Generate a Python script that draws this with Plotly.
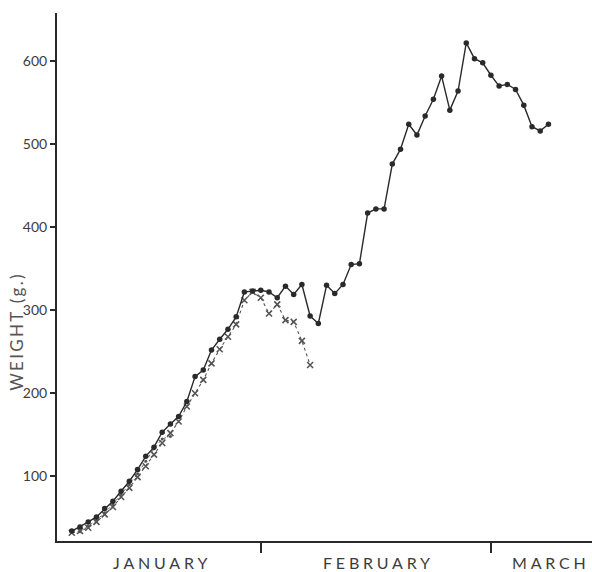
import plotly.graph_objects as go

# Day index counted from 1 January (day 0); Feb starts at 31, Mar at 59.
days_main = list(range(8, 67))
weight_main = [34, 39, 45, 51, 61, 70, 82, 94, 108, 124, 135, 153, 163, 172, 190,
               220, 228, 252, 265, 277, 292, 322, 323, 324, 322, 315, 329, 319,
               331, 293, 284, 330, 320, 331, 355, 356, 417, 422, 422, 476, 494,
               524, 511, 534, 554, 582, 541, 564, 622, 603, 598, 583, 570, 572,
               566, 547, 521, 516, 524]

days_cross = list(range(8, 38))
weight_cross = [32, 34, 38, 45, 54, 63, 75, 86, 99, 112, 126, 140, 152, 166, 184,
                200, 216, 236, 253, 268, 283, 312, 322, 315, 296, 307, 288, 286,
                263, 234]

days_small = list(range(9, 21))
weight_small = [33, 40, 47, 56, 66, 78, 90, 103, 118, 133, 145, 148]

month_names = ["JANUARY", "FEBRUARY", "MARCH"]
month_label_days = [19.0, 45.3, 66.3]
weight_ticks = [100, 200, 300, 400, 500, 600]

INK = "#2a2a2a"
TEXT = "#3c3c3c"
FONT = "Lato"


def spaced(s, px):
    return f'<span style="letter-spacing:{px}px">{s}</span>'


fig = go.Figure()

fig.add_trace(go.Scatter(
    x=days_small, y=weight_small, mode="lines+markers",
    line=dict(color="#555", width=0.9, dash="3px,3px"),
    marker=dict(symbol="circle", size=3, color="#555"),
    showlegend=False, hoverinfo="skip"))

fig.add_trace(go.Scatter(
    x=days_cross, y=weight_cross, mode="lines+markers",
    line=dict(color="#555", width=1.1, dash="dot"),
    marker=dict(symbol="x-thin-open", size=6, line=dict(color="#333", width=1.6)),
    showlegend=False, hoverinfo="skip"))

fig.add_trace(go.Scatter(
    x=days_main, y=weight_main, mode="lines+markers",
    line=dict(color=INK, width=1.4),
    marker=dict(symbol="circle", size=5.5, color=INK),
    showlegend=False, hoverinfo="skip"))

for name, d in zip(month_names, month_label_days):
    fig.add_annotation(x=d, y=0, xref="x", yref="paper", yanchor="top",
                       xanchor="center", yshift=-10, text=spaced(name, 3.8),
                       showarrow=False,
                       font=dict(family=FONT, size=16, color=TEXT))

fig.add_annotation(x=-0.0748, y=0.398, xref="paper", yref="paper",
                   xanchor="center", yanchor="middle",
                   text=spaced("WEIGHT (g.)", 2.3), textangle=-90, showarrow=False,
                   font=dict(family=FONT, size=17, color="#555"))

fig.update_xaxes(
    range=[6.2, 71.3], showgrid=False, zeroline=False,
    showline=True, linecolor=INK, linewidth=2,
    tickvals=[], showticklabels=False,
    minor=dict(tick0=31, dtick=28, ticks="outside", ticklen=10,
               tickwidth=1.5, tickcolor=INK, showgrid=False))

fig.update_yaxes(
    range=[22, 658], showgrid=False, zeroline=False,
    showline=True, linecolor=INK, linewidth=2,
    tickvals=weight_ticks, ticks="outside", ticklen=5, tickwidth=1.5,
    tickcolor=INK, tickfont=dict(family=FONT, size=14, color=TEXT))

fig.update_layout(
    width=592, height=572,
    margin=dict(l=57, r=0, t=13, b=31),
    paper_bgcolor="white", plot_bgcolor="white")

fig.write_html("out.html")
